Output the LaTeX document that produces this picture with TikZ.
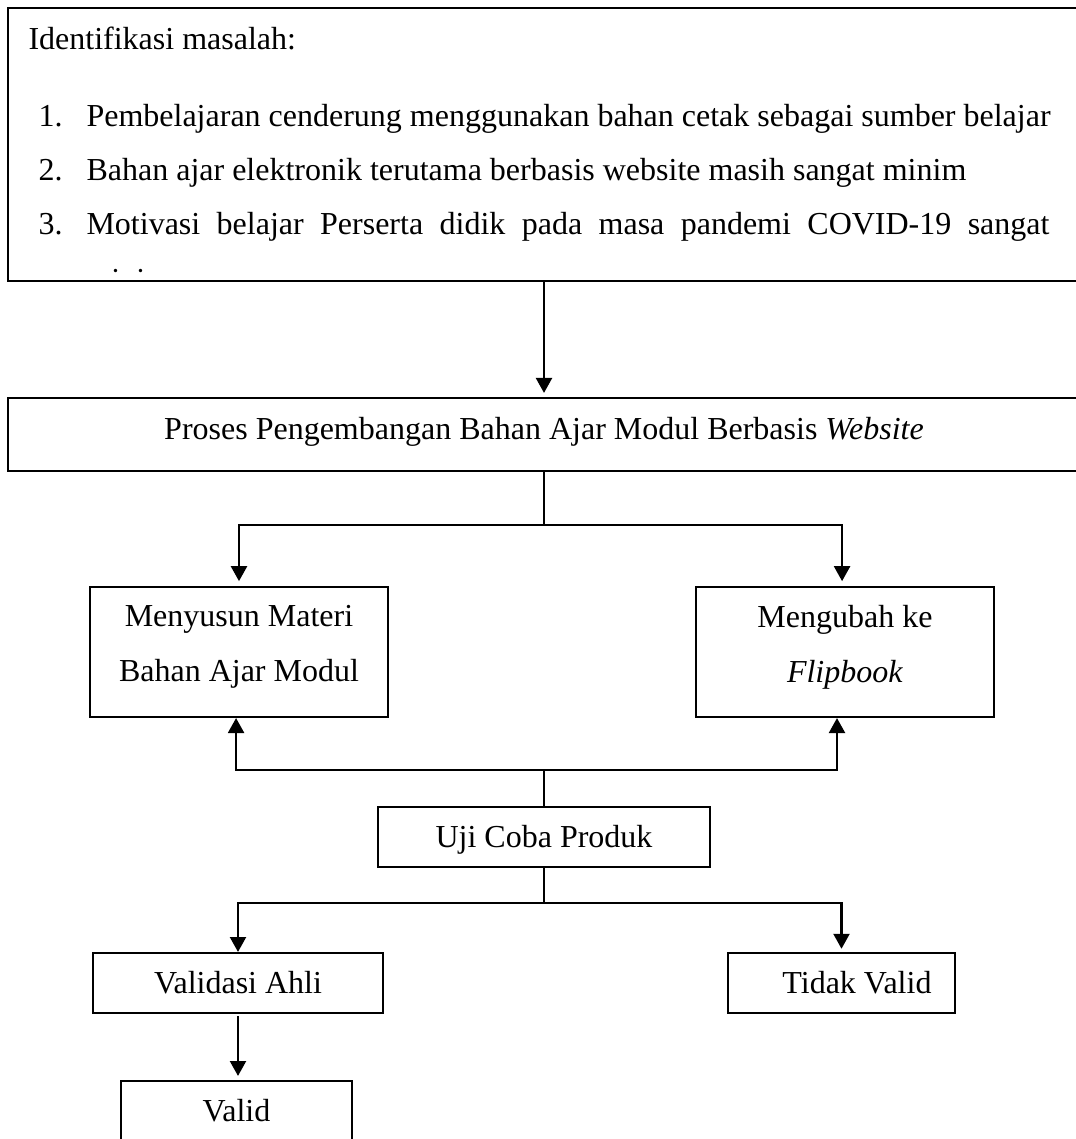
\documentclass[tikz,border=0pt]{standalone}
\usepackage{fontspec}
\setmainfont{Liberation Serif}
\usetikzlibrary{arrows.meta}

\tikzset{
	kotak/.style={draw, line width=0.8pt, inner sep=0pt, align=center},
	satu/.style={text height=8pt, text depth=0pt},
	teks/.style={anchor=base west, inner sep=0pt},
	panah/.style={line width=0.8pt, -{Triangle[length=5.6pt,width=6pt]}},
	garis/.style={line width=0.4pt},
}

\begin{document}
\begin{tikzpicture}[x=0.375pt, y=-0.375pt, font=\fontsize{12}{20.6}\selectfont]
	\useasboundingbox (0,0) rectangle (1075,1139);
	
	% kotak identifikasi masalah
	\node[kotak, minimum width=402pt, minimum height=102.4pt] (masalah) at (544,144.5) {};
	\begin{scope}
		\clip (10,10) rectangle (1075,273);
		\node[teks] (judul) at (28,49) {Identifikasi masalah:};
		\node[teks] (no1) at (38,126) {1.};
		\node[teks] (butir1) at (86,126) {Pembelajaran cenderung menggunakan bahan cetak sebagai sumber belajar};
		\node[teks] (no2) at (38,180) {2.};
		\node[teks] (butir2) at (86,180) {Bahan ajar elektronik terutama berbasis website masih sangat minim};
		\node[teks] (no3) at (38,234) {3.};
		\node[teks] (butir3) at (86,234) {\makebox[361.1pt][s]{Motivasi belajar Perserta didik pada masa pandemi COVID-19 sangat}};
		\node[teks] (butir3b) at (86,290) {minim};
	\end{scope}
	
	\node[kotak, minimum width=402pt, minimum height=27.4pt, text height=8pt, text depth=4.2pt] (proses) at (544,434.5) {Proses Pengembangan Bahan Ajar Modul Berbasis \textit{Website}};
	
	\node[kotak, minimum width=111.75pt, minimum height=48.75pt, text depth=6.2pt] (menyusun) at (239,652) {Menyusun Materi\\Bahan Ajar Modul};
	\node[kotak, minimum width=111.75pt, minimum height=48.75pt, text depth=6.2pt] (mengubah) at (845,652) {Mengubah ke\\\textit{Flipbook}};
	
	\node[kotak, satu, minimum width=124.5pt, minimum height=22.5pt] (uji) at (544,837) {Uji Coba Produk};
	\node[kotak, satu, minimum width=108.75pt, minimum height=22.5pt] (validasi) at (238,983) {Validasi Ahli};
	\node[kotak, satu, minimum width=85.1pt, minimum height=22.5pt] (tidak) at (841.5,983) {\hspace*{11.6pt}Tidak Valid};
	\node[kotak, satu, minimum width=86.6pt, minimum height=22.5pt] (valid) at (236.5,1111) {Valid};
	
	% titik cabang
	\coordinate (cabang1) at (544,525);
	\coordinate (cabang2) at (544,770);
	\coordinate (cabang3) at (544,903);
	
	\draw[panah, shorten >=1.5pt] (masalah.south) -- (proses.north);
	\draw[garis] (proses.south) -- (cabang1);
	\draw[panah, shorten >=1.8pt] (cabang1) -| (menyusun.north);
	\draw[panah, shorten >=1.8pt] (cabang1) -| ([xshift=-1.1pt]mengubah.north);
	
	\draw[garis] (uji.north) -- (cabang2);
	\draw[panah] (cabang2) -| ([xshift=-1.1pt]menyusun.south);
	\draw[panah] (cabang2) -| ([xshift=-3pt]mengubah.south);
	
	\draw[garis] (uji.south) -- (cabang3);
	\draw[panah] (cabang3) -| (validasi.north);
	\draw[panah, shorten >=1.2pt] (cabang3) -| (tidak.north);
	\draw[panah, shorten >=1.5pt] ([yshift=-0.8pt]validasi.south) -- (validasi.south |- valid.north);
\end{tikzpicture}
\end{document}
